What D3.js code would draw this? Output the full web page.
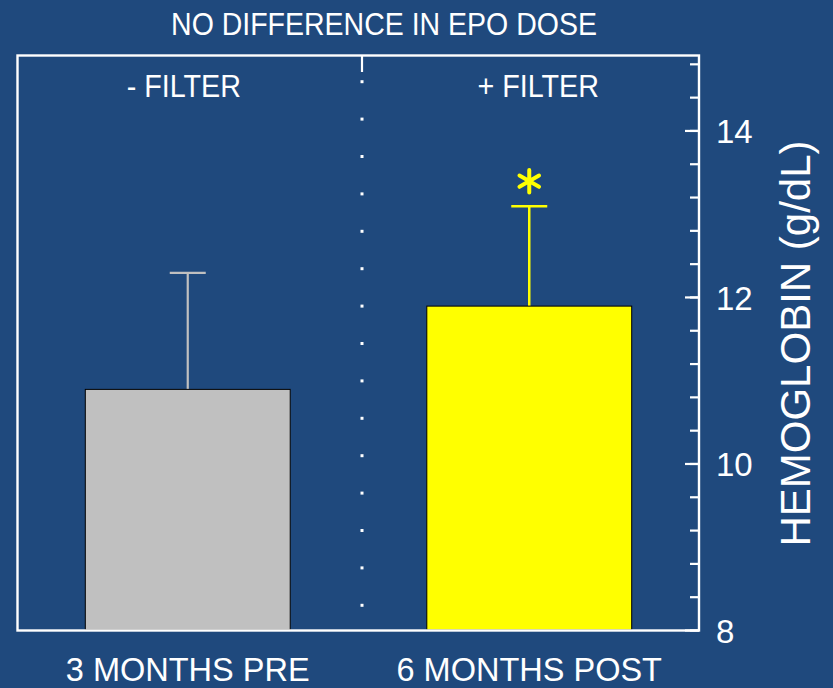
<!DOCTYPE html>
<html>
<head>
<meta charset="utf-8">
<script src="https://cdn.jsdelivr.net/npm/d3@7"></script>
<style>
  html, body { margin: 0; padding: 0; background: #1f497d; }
  svg { display: block; }
  text { font-family: "Liberation Sans", Arial, sans-serif; fill: #ffffff; }
</style>
</head>
<body>
<svg id="chart" width="833" height="688"></svg>
<script>
// ---- data ----
const categories = ["3 MONTHS PRE", "6 MONTHS POST"];
const groupLabels = ["- FILTER", "+ FILTER"];
const means = [10.89, 11.89];
const errors = [1.40, 1.20];
const barColors = ["#c0c0c0", "#ffff00"];
const errorColors = ["#c0c0c0", "#ffff00"];
const significance = [false, true];
const majorTicks = [8, 10, 12, 14];
const yDomain = [8, 14.9];
const minorStep = 0.4;
const chartTitle = "NO DIFFERENCE IN EPO DOSE";
const yTitle = "HEMOGLOBIN (g/dL)";

// ---- layout ----
const svg = d3.select("#chart");
const W = 833, H = 688;
const frameL = 17.5, frameR = 699, frameT = 55.5, frameB = 630.5;

svg.append("rect").attr("width", W).attr("height", H).attr("fill", "#1f497d");

const x = d3.scaleBand().domain(categories).range([17, 700]).paddingInner(0.4).paddingOuter(0.2);
const y = d3.scaleLinear().domain(yDomain).range([630, 55.5]);

const data = categories.map((c, i) => ({
  cat: c, mean: means[i], err: errors[i], color: barColors[i],
  ecolor: errorColors[i], sig: significance[i], group: groupLabels[i]
}));

// error bars (behind bars)
const eb = svg.append("g");
data.forEach(d => {
  const cx = x(d.cat) + x.bandwidth() / 2;
  const sw = d.color === "#ffff00" ? 2.5 : 2.2;
  eb.append("line").attr("x1", cx).attr("x2", cx)
    .attr("y1", y(d.mean)).attr("y2", y(d.mean + d.err))
    .attr("stroke", d.ecolor).attr("stroke-width", sw);
  eb.append("line").attr("x1", cx - 18).attr("x2", cx + 18)
    .attr("y1", y(d.mean + d.err)).attr("y2", y(d.mean + d.err))
    .attr("stroke", d.ecolor).attr("stroke-width", sw);
});

// bars
svg.append("g").selectAll("rect").data(data).join("rect")
  .attr("x", d => x(d.cat))
  .attr("y", d => y(d.mean))
  .attr("width", x.bandwidth())
  .attr("height", d => y(yDomain[0]) - y(d.mean))
  .attr("fill", d => d.color)
  .attr("stroke", "#000")
  .attr("stroke-width", 1);

// significance asterisk
data.filter(d => d.sig).forEach(d => {
  const cx = x(d.cat) + x.bandwidth() / 2;
  svg.append("path")
    .attr("d", d3.symbol(d3.symbolAsterisk, 360)())
    .attr("transform", `translate(${cx},${y(d.mean + d.err) - 25})`)
    .attr("fill", "none")
    .attr("stroke", "#ffff00")
    .attr("stroke-width", 4)
    .attr("stroke-linecap", "round");
});

// divider (dotted) between groups
const divX = 362;
svg.append("line").attr("x1", divX).attr("x2", divX).attr("y1", frameT).attr("y2", 72)
  .attr("stroke", "#fff").attr("stroke-width", 2.2);
const dotYs = d3.range(15).map(i => 81.7 + i * 37.4);
svg.append("g").selectAll("rect").data(dotYs).join("rect")
  .attr("x", divX - 1.5).attr("y", d => d - 1.5)
  .attr("width", 3).attr("height", 3).attr("fill", "#fff");

// frame
svg.append("rect")
  .attr("x", frameL).attr("y", frameT)
  .attr("width", frameR - frameL).attr("height", frameB - frameT)
  .attr("fill", "none").attr("stroke", "#fff").attr("stroke-width", 2.4);

// right axis: minor ticks
const minorTicks = d3.range(Math.round((yDomain[1] - yDomain[0]) / minorStep) + 1)
  .map(i => yDomain[0] + i * minorStep)
  .filter(v => v <= yDomain[1]);
const minorAxis = svg.append("g").attr("transform", `translate(${frameR},0)`)
  .call(d3.axisRight(y).tickValues(minorTicks).tickSizeInner(-9).tickSizeOuter(0).tickFormat(""));
minorAxis.select(".domain").remove();
minorAxis.selectAll("line").attr("stroke", "#fff").attr("stroke-width", 2.2);

// right axis: major ticks + labels
const majorAxis = svg.append("g").attr("transform", `translate(${frameR},0)`)
  .call(d3.axisRight(y).tickValues(majorTicks).tickSizeInner(-14).tickSizeOuter(0).tickPadding(17).tickFormat(d3.format("d")));
majorAxis.select(".domain").remove();
majorAxis.selectAll("line").attr("stroke", "#fff").attr("stroke-width", 2.2);
majorAxis.selectAll("text")
  .attr("fill", "#fff")
  .style("font-family", '"Liberation Sans", Arial, sans-serif')
  .style("font-size", "33px")
  .attr("dy", "0.37em");

// y title
svg.append("text")
  .attr("transform", `translate(810,343.5) rotate(-90)`)
  .attr("text-anchor", "middle")
  .style("font-size", "42px")
  .text(yTitle);

// chart title
svg.append("text")
  .attr("transform", "translate(384,35) scale(1,1.08)")
  .attr("text-anchor", "middle")
  .style("font-size", "28.5px")
  .text(chartTitle);

// group labels
const labelNudge = [-4, 9];
svg.append("g").selectAll("text").data(data).join("text")
  .attr("transform", (d, i) => `translate(${x(d.cat) + x.bandwidth() / 2 + labelNudge[i]},97) scale(1,1.08)`)
  .attr("text-anchor", "middle")
  .style("font-size", "28.7px")
  .text(d => d.group);

// category labels
svg.append("g").selectAll("text").data(data).join("text")
  .attr("x", d => x(d.cat) + x.bandwidth() / 2)
  .attr("y", 681)
  .attr("text-anchor", "middle")
  .style("font-size", "32.5px")
  .text(d => d.cat);
</script>
</body>
</html>
